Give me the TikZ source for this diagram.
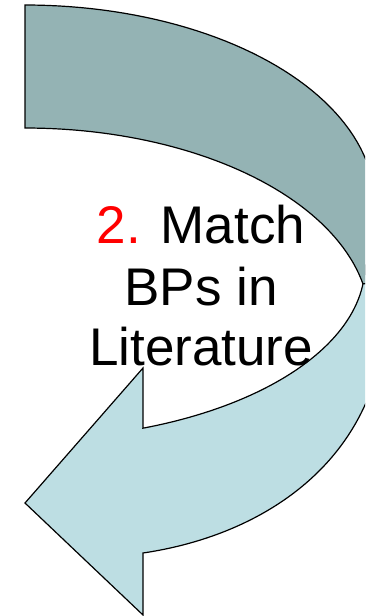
\documentclass[tikz,border=0pt]{standalone}
\usepackage{fontspec}
\setmainfont{Liberation Sans}
\usepackage{tikz}
\definecolor{bandback}{RGB}{148,179,180}
\definecolor{bandfront}{RGB}{189,222,227}
\tikzset{
  band/.style={draw=black,line width=1.2pt,line join=miter},
  backband/.style={band,fill=bandback},
  frontband/.style={band,fill=bandfront},
  steptext/.style={anchor=base,inner sep=0pt,font=\fontsize{53}{61}\selectfont}
}

\begin{document}
\begin{tikzpicture}[x=1pt,y=-1pt]
  \useasboundingbox (0,0) rectangle (365,616);
  \clip (0,0) rectangle (365,616);
  % front band with the arrow head
  \filldraw[frontband] (143,428)
    -- plot[domain=20.3:90,samples=50] ({25+340*sin(\x)},{265+174*cos(\x)})
    -- (385,265) -- (385,360) -- (365,405)
    .. controls (326,491) and (238,539) .. (143,553)
    -- (143,615) -- (25,503) -- (143,368) -- cycle;
  % back band, drawn over the front one
  \filldraw[backband] (25,5)
    -- plot[domain=0:90,samples=50] ({25+350*sin(\x)},{205-200*cos(\x)})
    -- (385,205) -- (385,284)
    -- plot[domain=0:78.4,samples=50] ({25+345*sin(78.4-\x)},{323-195*cos(78.4-\x)})
    -- cycle;
  \node[steptext] (l1) at (201,243) {\textcolor{red}{2.} Match};
  \node[steptext] (l2) at (201,305) {BPs in};
  \node[steptext] (l3) at (201,365) {Literature};
\end{tikzpicture}
\end{document}
